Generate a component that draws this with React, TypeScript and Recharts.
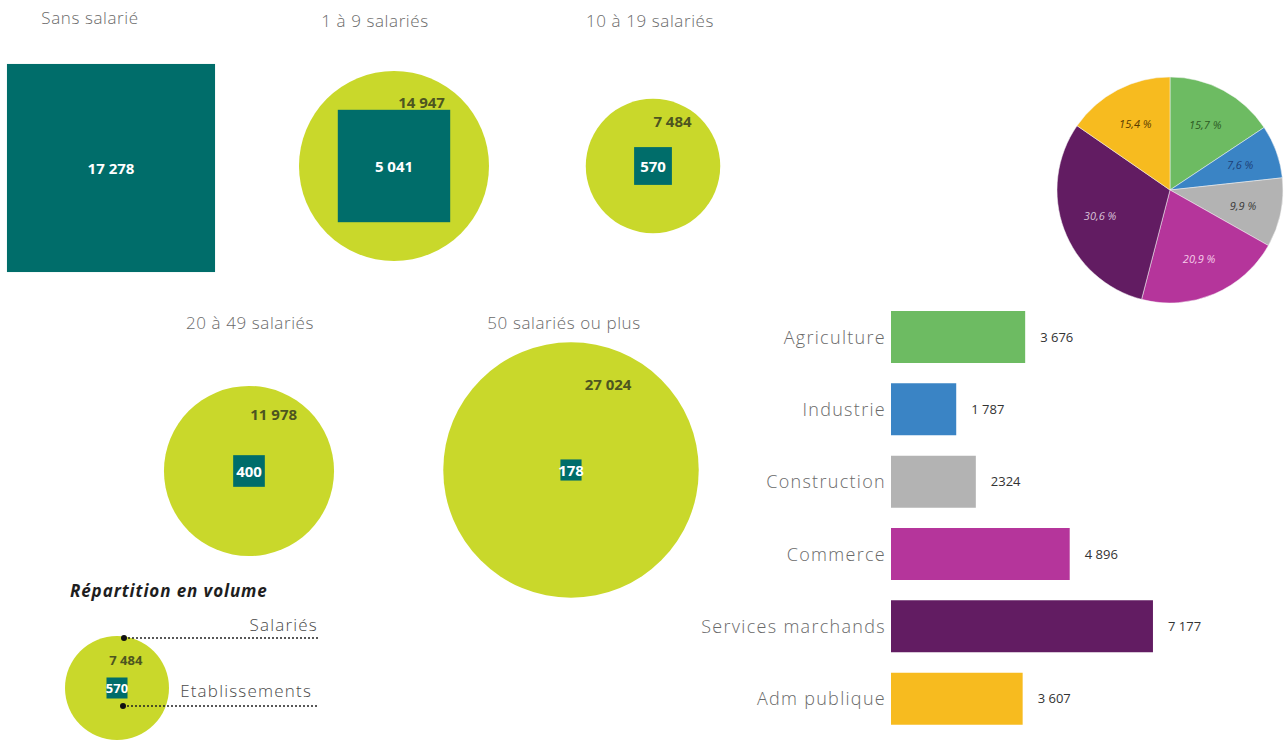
import {
  Bar,
  BarChart,
  Cell,
  LabelList,
  Pie,
  PieChart,
  Scatter,
  ScatterChart,
  XAxis,
  YAxis,
  ZAxis,
} from "recharts";

// Etablissements / salariés par tranche d'effectif
const TRANCHES = ["Sans salarié", "1 à 9 salariés", "10 à 19 salariés", "20 à 49 salariés", "50 salariés ou plus"];
const SALARIES = [0, 14947, 7484, 11978, 27024];
const ETABLISSEMENTS = [17278, 5041, 570, 400, 178];

// Salariés par secteur
const SECTEURS = ["Agriculture", "Industrie", "Construction", "Commerce", "Services marchands", "Adm publique"];
const SECTEUR_VALEURS = [3676, 1787, 2324, 4896, 7177, 3607];
const SECTEUR_LABELS = ["3 676", "1 787", "2324", "4 896", "7 177", "3 607"];
const SECTEUR_PARTS = ["15,7 %", "7,6 %", "9,9 %", "20,9 %", "30,6 %", "15,4 %"];

// Exemple de la légende
const LEGENDE_SALARIES = 7484;
const LEGENDE_ETAB = 570;

const SECTEUR_COLORS = ["#6dbb62", "#3a84c5", "#b3b3b3", "#b5359b", "#621c62", "#f7bb1f"];
const PART_COLORS = ["#2c5a22", "#1d3f78", "#3a3a3a", "#f5cdea", "#d9c3d9", "#5a3b00"];

const LIME = "#c9d82b";
const TEAL = "#006d6a";
const FONT = "'Open Sans', Lato, sans-serif";
const Z_MAX = 30000;

const GROUP_POS = [
  { cx: 111, cy: 168, tx: 90, ty: 17 },
  { cx: 394, cy: 166, tx: 375, ty: 20 },
  { cx: 653, cy: 166, tx: 650, ty: 20 },
  { cx: 249, cy: 471, tx: 250, ty: 322 },
  { cx: 571, cy: 470, tx: 564, ty: 322 },
];

const fmt = (v: number) => String(v).replace(/\B(?=(\d{3})+(?!\d))/g, " ");

function circleShape(kx: number, ky: number, fs: number) {
  return (p: any) => {
    const size = p.size ?? Math.PI * (p.width / 2) ** 2;
    const r = Math.sqrt(size / Math.PI);
    return (
      <g>
        <circle cx={p.cx} cy={p.cy} r={r} fill={LIME} />
        <text
          x={p.cx + kx * r}
          y={p.cy + ky * r}
          textAnchor="middle"
          dominantBaseline="central"
          fill="#4d5520"
          fontFamily={FONT}
          fontWeight={700}
          fontSize={fs}
        >
          {fmt(p.payload.z)}
        </text>
      </g>
    );
  };
}

function squareShape(fs: number) {
  return (p: any) => {
    const side = Math.sqrt(p.size ?? p.width * p.width);
    return (
      <g>
        <rect x={p.cx - side / 2} y={p.cy - side / 2} width={side} height={side} fill={TEAL} />
        <text
          x={p.cx}
          y={p.cy}
          textAnchor="middle"
          dominantBaseline="central"
          fill="#fff"
          fontFamily={FONT}
          fontWeight={700}
          fontSize={fs}
        >
          {fmt(p.payload.z)}
        </text>
      </g>
    );
  };
}

interface GroupProps {
  salaries: number;
  etab: number;
  cx: number;
  cy: number;
  circleK: number;
  squareK: number;
  kx: number;
  ky: number;
  fs: number;
  box?: number;
}

function Group({ salaries, etab, cx, cy, circleK, squareK, kx, ky, fs, box = 280 }: GroupProps) {
  const circ = salaries > 0 ? [{ x: 0, y: 0, z: salaries }] : [];
  const sq = [{ x: 0, y: 0, z: etab }];
  return (
    <div style={{ position: "absolute", left: cx - box / 2, top: cy - box / 2 }}>
      <ScatterChart width={box} height={box} margin={{ top: 0, right: 0, bottom: 0, left: 0 }}>
        <XAxis type="number" dataKey="x" domain={[-1, 1]} hide />
        <YAxis type="number" dataKey="y" domain={[-1, 1]} hide />
        <ZAxis zAxisId="c" type="number" dataKey="z" domain={[0, Z_MAX]} range={[0, Z_MAX * circleK]} />
        <ZAxis zAxisId="s" type="number" dataKey="z" domain={[0, Z_MAX]} range={[0, Z_MAX * squareK]} />
        <Scatter data={circ} zAxisId="c" shape={circleShape(kx, ky, fs)} isAnimationActive={false} />
        <Scatter data={sq} zAxisId="s" shape={squareShape(fs)} isAnimationActive={false} />
      </ScatterChart>
    </div>
  );
}

const RAD = Math.PI / 180;

function pieLabel(p: any) {
  const r = p.outerRadius * 0.66;
  const x = p.cx + r * Math.cos(-p.midAngle * RAD);
  const y = p.cy + r * Math.sin(-p.midAngle * RAD);
  return (
    <text
      x={x}
      y={y}
      textAnchor="middle"
      dominantBaseline="central"
      fill={PART_COLORS[p.index]}
      fontFamily={FONT}
      fontStyle="italic"
      fontSize={11}
    >
      {SECTEUR_PARTS[p.index]}
    </text>
  );
}

export default function App() {
  const secteurData = SECTEURS.map((name, i) => ({
    name,
    value: SECTEUR_VALEURS[i],
    label: SECTEUR_LABELS[i],
  }));

  const titleStyle = {
    position: "absolute" as const,
    transform: "translate(-50%, -50%)",
    whiteSpace: "nowrap" as const,
    fontFamily: FONT,
    fontSize: 17,
    letterSpacing: 0.6,
    color: "#6a6a6a",
    fontWeight: 300,
  };

  const legendText = { fontFamily: FONT, fontSize: 17, fontWeight: 300, letterSpacing: 1.2, fill: "#4a4a4a" };

  return (
    <div
      style={{
        position: "absolute",
        left: 0,
        top: 0,
        width: 1286,
        height: 740,
        overflow: "hidden",
        background: "#fff",
        fontFamily: FONT,
      }}
    >
      {TRANCHES.map((t, i) => (
        <div key={t} style={{ ...titleStyle, left: GROUP_POS[i].tx, top: GROUP_POS[i].ty }}>
          {t}
        </div>
      ))}
      {TRANCHES.map((t, i) => (
        <Group
          key={t}
          salaries={SALARIES[i]}
          etab={ETABLISSEMENTS[i]}
          cx={GROUP_POS[i].cx}
          cy={GROUP_POS[i].cy}
          circleK={1.897}
          squareK={2.506}
          kx={0.29}
          ky={-0.67}
          fs={15}
        />
      ))}

      {/* légende */}
      <div
        style={{
          position: "absolute",
          left: 70,
          top: 579,
          fontFamily: FONT,
          fontSize: 17,
          fontWeight: 700,
          fontStyle: "italic",
          letterSpacing: 0.9,
          color: "#1e1e1e",
          whiteSpace: "nowrap",
        }}
      >
        Répartition en volume
      </div>
      <Group
        salaries={LEGENDE_SALARIES}
        etab={LEGENDE_ETAB}
        cx={117}
        cy={688}
        circleK={1.135}
        squareK={0.774}
        kx={0.17}
        ky={-0.54}
        fs={13}
        box={120}
      />
      <svg width={1286} height={740} style={{ position: "absolute", left: 0, top: 0, pointerEvents: "none" }}>
        <line x1={124} y1={638} x2={318} y2={638} stroke="#222" strokeWidth={1.3} strokeDasharray="2 2" />
        <circle cx={124} cy={638} r={3} fill="#111" />
        <text x={318} y={631} textAnchor="end" {...legendText}>
          Salariés
        </text>
        <line x1={123} y1={706} x2={318} y2={706} stroke="#222" strokeWidth={1.3} strokeDasharray="2 2" />
        <circle cx={123} cy={706} r={3} fill="#111" />
        <text x={312} y={697} textAnchor="end" {...legendText}>
          Etablissements
        </text>
      </svg>

      {/* camembert */}
      <div style={{ position: "absolute", left: 1050, top: 70 }}>
        <PieChart width={240} height={240} margin={{ top: 0, right: 0, bottom: 0, left: 0 }}>
          <Pie
            data={secteurData}
            dataKey="value"
            nameKey="name"
            cx="50%"
            cy="50%"
            outerRadius={113}
            startAngle={90}
            endAngle={-270}
            stroke="#f4f4f4"
            strokeWidth={0.5}
            label={pieLabel}
            labelLine={false}
            isAnimationActive={false}
          >
            {secteurData.map((d, i) => (
              <Cell key={d.name} fill={SECTEUR_COLORS[i]} />
            ))}
          </Pie>
        </PieChart>
      </div>

      {/* barres */}
      <div style={{ position: "absolute", left: 671, top: 301 }}>
        <BarChart
          width={620}
          height={434}
          layout="vertical"
          data={secteurData}
          margin={{ top: 0, right: 108, bottom: 0, left: 0 }}
          barCategoryGap={20}
        >
          <XAxis type="number" domain={[0, 8000]} hide />
          <YAxis
            type="category"
            dataKey="name"
            width={220}
            axisLine={false}
            tickLine={false}
            tickSize={5}
            tickMargin={0}
            tick={{ fill: "#6a6a6a", fontSize: 18, fontFamily: FONT, fontWeight: 300, letterSpacing: 1.3 }}
          />
          <Bar dataKey="value" barSize={52} isAnimationActive={false}>
            {secteurData.map((d, i) => (
              <Cell key={d.name} fill={SECTEUR_COLORS[i]} />
            ))}
            <LabelList
              dataKey="label"
              position="right"
              offset={15}
              fill="#333"
              fontSize={13}
              fontFamily={FONT}
            />
          </Bar>
        </BarChart>
      </div>
    </div>
  );
}
